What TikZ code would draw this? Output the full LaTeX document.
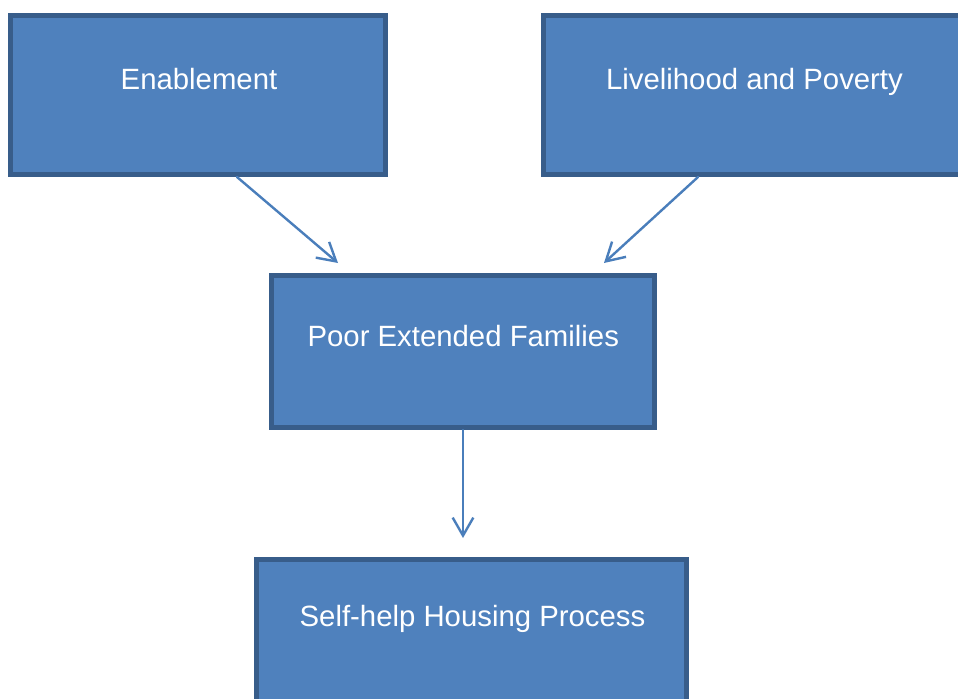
\documentclass[tikz,border=0pt]{standalone}
\usepackage{fontspec}
\setmainfont{Liberation Sans}
\usetikzlibrary{arrows.meta}
\definecolor{boxfill}{HTML}{4F81BD}
\definecolor{boxline}{HTML}{385D8A}
\definecolor{arrowline}{HTML}{4A7EBB}
\begin{document}
\begin{tikzpicture}[x=0.75pt,y=-0.75pt,
  box/.style={rectangle, fill=boxfill, draw=boxline, line width=3.75pt, inner sep=0pt},
  boxtext/.style={anchor=base, text=white, inner sep=0pt, font=\fontsize{22}{26}\selectfont},
  flow/.style={draw=arrowline, line width=1.8pt, line cap=round,
    -{Straight Barb[length=13.5pt,width=15.5pt,line width=1.8pt]}}]
  \useasboundingbox (0,0) rectangle (958,699);
  \clip (0,0) rectangle (958,699);
  % boxes
  \node (enab) [box, minimum width=281.25pt, minimum height=119.25pt] at (198,95) {};
  \node (liv)  [box, minimum width=345pt,    minimum height=119.25pt] at (773.5,95) {};
  \node (poor) [box, minimum width=287.25pt, minimum height=114pt]    at (463,351.5) {};
  \node (help) [box, minimum width=322.5pt,  minimum height=120pt]    at (471.5,639.5) {};
  % labels
  \node (enabt) [boxtext] at (199,89.5)  {Enablement};
  \node (livt)  [boxtext] at (754.5,89.5) {Livelihood and Poverty};
  \node (poort) [boxtext] at (463.3,346) {Poor Extended Families};
  \node (helpt) [boxtext] at (472.5,626.7) {Self-help Housing Process};
  % connectors
  \draw[flow] ([xshift=29.25pt]enab.south) -- ([xshift=-93.75pt,yshift=7.5pt]poor.north);
  \draw[flow] ([xshift=-56.6pt]liv.south) -- ([xshift=105.75pt,yshift=7.5pt]poor.north);
  \draw[flow] (poor.south) -- ([xshift=-6.375pt,yshift=14.25pt]help.north);
\end{tikzpicture}
\end{document}
